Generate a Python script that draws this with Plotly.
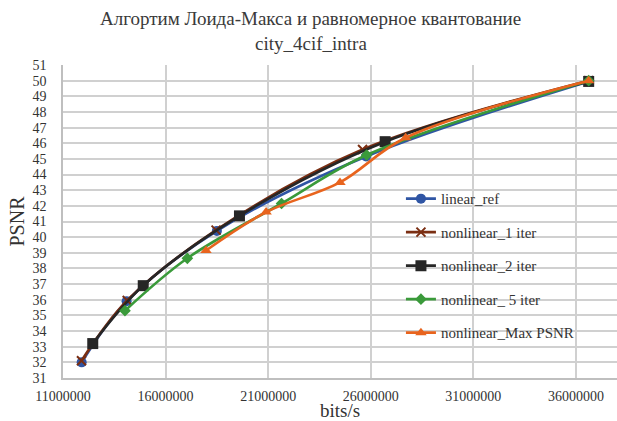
import plotly.graph_objects as go

# Bitrate (bits/s) and PSNR (dB) for each quantiser configuration
linear_ref_bits = [11.91e6, 14.10e6, 18.50e6, 25.77e6, 36.62e6]
linear_ref_psnr = [32.0, 35.9, 40.4, 45.15, 49.95]

nonlinear_1_bits = [11.90e6, 14.13e6, 18.46e6, 25.60e6, 36.62e6]
nonlinear_1_psnr = [32.1, 35.95, 40.45, 45.6, 50.0]

nonlinear_2_bits = [12.45e6, 14.91e6, 19.60e6, 26.70e6, 36.62e6]
nonlinear_2_psnr = [33.2, 36.9, 41.36, 46.1, 49.95]

nonlinear_5_bits = [14.02e6, 17.06e6, 21.65e6, 25.80e6, 36.62e6]
nonlinear_5_psnr = [35.3, 38.65, 42.15, 45.25, 50.0]

max_psnr_bits = [17.97e6, 20.90e6, 24.50e6, 27.70e6, 36.62e6]
max_psnr_psnr = [39.15, 41.6, 43.5, 46.35, 50.0]

x_ticks = [11000000, 16000000, 21000000, 26000000, 31000000, 36000000]
y_ticks = list(range(31, 52))

title_line1 = "Алгортим Лоида-Макса и равномерное квантование"
title_line2 = "city_4cif_intra"

series = [
    ("linear_ref", linear_ref_bits, linear_ref_psnr, "#2F55A4", "circle", 10),
    ("nonlinear_1 iter", nonlinear_1_bits, nonlinear_1_psnr, "#7A2E12", "x-thin-open", 9),
    ("nonlinear_2 iter", nonlinear_2_bits, nonlinear_2_psnr, "#262626", "square", 11),
    ("nonlinear_ 5 iter", nonlinear_5_bits, nonlinear_5_psnr, "#3A9A3A", "diamond", 9),
    ("nonlinear_Max PSNR", max_psnr_bits, max_psnr_psnr, "#E8641E", "triangle-up", 10),
]

fig = go.Figure()
for i, (name, xs, ys, color, symbol, size) in enumerate(series):
    marker = dict(symbol=symbol, size=size, color=color)
    if symbol == "x-thin-open":
        marker["line"] = dict(color=color, width=2)
    fig.add_trace(go.Scatter(
        x=xs, y=ys, name=name, mode="lines+markers",
        line=dict(color=color, width=2.6, shape="spline", smoothing=1.0),
        marker=marker, legendgroup=f"g{i}",
    ))

serif = "Times New Roman, Liberation Serif, serif"
text_col = "#333333"

# Two-line chart heading above the plot area
for txt, ypos in [(title_line1, 1.147), (title_line2, 1.07)]:
    fig.add_annotation(
        text=txt, xref="paper", yref="paper", x=0.447, y=ypos,
        xanchor="center", yanchor="middle", showarrow=False,
        font=dict(family=serif, size=19, color="#3a3a3a"),
    )

fig.update_layout(
    width=617, height=421,
    margin=dict(l=63, r=0, t=65, b=43),
    paper_bgcolor="white", plot_bgcolor="white",
    font=dict(family=serif, color=text_col, size=13),
    showlegend=True,
    legend=dict(
        x=0.61, y=0.625, xanchor="left", yanchor="top",
        bgcolor="rgba(0,0,0,0)", tracegroupgap=11,
        font=dict(family=serif, size=15, color=text_col),
    ),
    xaxis=dict(
        range=[11000000, 38000000], tickvals=x_ticks,
        ticktext=[str(v) for v in x_ticks],
        showgrid=True, gridcolor="#D0D0D0", gridwidth=1.5,
        showline=True, linecolor="#BFBFBF", linewidth=1.5,
        zeroline=False, ticks="", ticklabelstandoff=4,
        tickfont=dict(family=serif, size=14, color=text_col),
        title=dict(text="bits/s", standoff=0, font=dict(family=serif, size=19, color=text_col)),
        automargin=False,
    ),
    yaxis=dict(
        range=[31, 51], tickvals=y_ticks,
        showgrid=True, gridcolor="#D0D0D0", gridwidth=1.5,
        showline=True, linecolor="#BFBFBF", linewidth=1.5,
        zeroline=False, ticks="", ticklabelstandoff=12,
        tickfont=dict(family=serif, size=14, color=text_col),
        title=dict(text="PSNR", standoff=2, font=dict(family=serif, size=20, color=text_col)),
        automargin=False,
    ),
)

fig.write_html("out.html")
